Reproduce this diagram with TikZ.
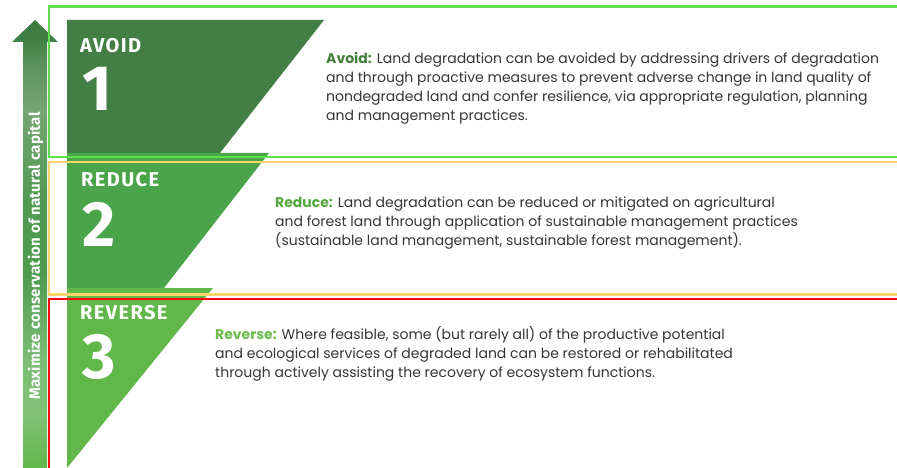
\documentclass[tikz,border=0pt]{standalone}
\usepackage{fontspec}
\setmainfont{Poppins}
\newfontfamily\headfont[LetterSpace=7]{Fira Sans}
\newfontfamily\axisfont[LetterSpace=2]{Fira Sans}

\definecolor{avoidgreen}{HTML}{437E45}
\definecolor{reducegreen}{HTML}{4AA54A}
\definecolor{reversegreen}{HTML}{62B74B}
\definecolor{avoidlabel}{HTML}{427F3A}
\definecolor{reducelabel}{HTML}{55A83E}
\definecolor{reverselabel}{HTML}{6CBB4C}
\definecolor{bodygray}{HTML}{363636}
\definecolor{lineavoid}{HTML}{5CE34B}
\definecolor{linereduce}{HTML}{FCD46A}
\definecolor{linereverse}{HTML}{FF0A0A}
% arrow gradient stops
\definecolor{shA}{HTML}{7FC274}
\definecolor{shB}{HTML}{7CBD76}
\definecolor{shC}{HTML}{4E9B4E}
\definecolor{shD}{HTML}{519A52}
\definecolor{shE}{HTML}{74A673}
\definecolor{shF}{HTML}{5C925D}
\definecolor{shG}{HTML}{3F7F45}
\definecolor{shH}{HTML}{3D7A42}

% vertical gradient of the arrow, stops between 25bp (bottom) and 75bp (top)
\pgfdeclareverticalshading{arrowshade}{100bp}{%
  color(0bp)=(reversegreen);
  color(25bp)=(reversegreen);
  color(31bp)=(shA);
  color(37bp)=(shB);
  color(47bp)=(shC);
  color(55bp)=(shD);
  color(65bp)=(shE);
  color(70bp)=(shF);
  color(73bp)=(shG);
  color(75bp)=(shH);
  color(100bp)=(shH)}

\tikzset{
  framebox/.style={line width=2.4pt},
  steptitle/.style={font=\headfont\bfseries\fontsize{20}{20}\selectfont, text=white, anchor=base west, inner sep=0pt},
  stepnum/.style={font=\headfont\bfseries\fontsize{64}{64}\selectfont, text=white, anchor=base west, inner sep=0pt},
  bodytext/.style={font=\fontsize{14}{19.2}\selectfont, text=bodygray, align=left, anchor=base west, inner sep=0pt},
}

\begin{document}
\begin{tikzpicture}[x=1pt,y=-1pt]
\useasboundingbox (0,0) rectangle (897,468);
\fill[white] (0,0) rectangle (897,468);

% upward arrow
\shade[shading=arrowshade]
  (23,468) -- (23,42) -- (12,42) -- (35,20) -- (58,42) -- (47,42) -- (47,468) -- cycle;
\node[rotate=90, text=white, font=\axisfont\bfseries\fontsize{15}{15}\selectfont, inner sep=0pt]
  (axis) at (35.5,256) {Maximize conservation of natural capital};

% stepped panels
\fill[avoidgreen]   (67,20)  -- (324,20)  -- (220,153) -- (67,153) -- cycle;
\fill[reducegreen]  (67,153) -- (269,153) -- (164,288) -- (67,288) -- cycle;
\fill[reversegreen] (67,288) -- (213,288) -- (67,468) -- cycle;

% panel titles and numbers
\node[steptitle] (avoidtitle)   at (80,53)    {AVOID};
\node[stepnum]   (avoidnum)     at (82,111)   {1};
\node[steptitle] (reducetitle)  at (81,186)   {REDUCE};
\node[stepnum]   (reducenum)    at (82,246.5) {2};
\node[steptitle] (reversetitle) at (80,319.5) {REVERSE};
\node[stepnum]   (reversenum)   at (82,378)   {3};

% frames
\draw[framebox, lineavoid]   (49,6.5)   rectangle (905,157.3);
\draw[framebox, linereduce]  (49,162.3) rectangle (905,294.3);
\draw[framebox, linereverse] (49,299)   rectangle (905,480);

% descriptions (anchored at the baseline of their last line)
\node[bodytext] (avoidtext) at (326,120.9) {%
  \textcolor{avoidlabel}{\bfseries Avoid:} Land degradation can be avoided by addressing drivers of degradation\\
  and through proactive measures to prevent adverse change in land quality of\\
  nondegraded land and confer resilience, via appropriate regulation, planning\\
  and management practices.};
\node[bodytext] (reducetext) at (275,245.7) {%
  \textcolor{reducelabel}{\bfseries Reduce:} Land degradation can be reduced or mitigated on agricultural\\
  and forest land through application of sustainable management practices\\
  (sustainable land management, sustainable forest management).};
\node[bodytext] (reversetext) at (215,377.7) {%
  \textcolor{reverselabel}{\bfseries Reverse:} Where feasible, some (but rarely all) of the productive potential\\
  and ecological services of degraded land can be restored or rehabilitated\\
  through actively assisting the recovery of ecosystem functions.};
\end{tikzpicture}
\end{document}
